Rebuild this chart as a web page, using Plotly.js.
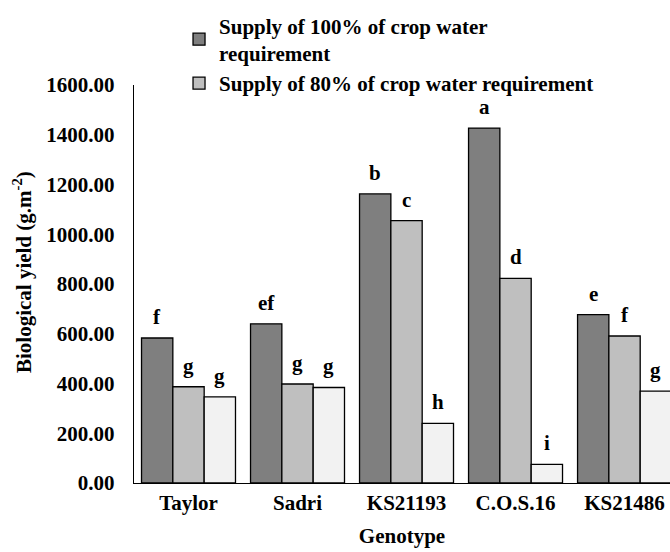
<!DOCTYPE html>
<html>
<head>
<meta charset="utf-8">
<script src="https://cdn.plot.ly/plotly-3.0.1.min.js"></script>
<style>html,body{margin:0;padding:0;background:#fff;}#chart{width:670px;height:552px;}</style>
</head>
<body>
<div id="chart"></div>
<script>
const genotypes = ['Taylor', 'Sadri', 'KS21193', 'C.O.S.16', 'KS21486'];
const seriesNames = [
  'Supply of 100% of crop water<br>requirement',
  'Supply of 80% of crop water requirement',
  'Supply of 60% of crop water requirement'
];
const supply100 = [583, 640, 1162, 1427, 677];
const supply80 = [387, 398, 1055, 823, 591];
const supply60 = [346, 384, 240, 75, 369];
const letters100 = ['f', 'ef', 'b', 'a', 'e'];
const letters80 = ['g', 'g', 'c', 'd', 'f'];
const letters60 = ['g', 'g', 'h', 'i', 'g'];
const yTicks = [0, 200, 400, 600, 800, 1000, 1200, 1400, 1600];

const colors = ['#7f7f7f', '#bfbfbf', '#f2f2f2'];
const values = [supply100, supply80, supply60];
const letters = [letters100, letters80, letters60];
const bargap = 0.138;
const fontFam = 'Liberation Serif';
const F = {family: fontFam, size: 21, color: '#000', weight: 700};

const traces = values.map((v, k) => ({
  type: 'bar',
  name: seriesNames[k],
  x: genotypes,
  y: v,
  marker: {color: colors[k], line: {color: '#000', width: 1.3}},
  showlegend: k < 2,
  hoverinfo: 'x+y'
}));

const w = (1 - bargap) / 3;
const annotations = [];
values.forEach((v, k) => {
  v.forEach((val, i) => {
    annotations.push({
      x: i + (k - 1) * w, y: val, xref: 'x', yref: 'y',
      text: letters[k][i], showarrow: false,
      xanchor: 'center', yanchor: 'bottom', yshift: 7,
      font: F
    });
  });
});
annotations.push({
  x: -0.209, y: 0.53, xref: 'paper', yref: 'paper',
  text: 'Biological yield (g.m<sup>-2</sup>)', textangle: -90,
  showarrow: false, xanchor: 'center', yanchor: 'middle',
  font: F
});

const layout = {
  width: 670, height: 552,
  margin: {l: 134, r: 0, t: 85, b: 69},
  paper_bgcolor: '#fff', plot_bgcolor: '#fff',
  font: F,
  barmode: 'group', bargap: bargap, bargroupgap: 0,
  xaxis: {
    type: 'category',
    range: [-0.5, 4.417],
    showline: true, linecolor: '#000', linewidth: 1.3,
    ticks: '', showgrid: false, zeroline: false,
    tickfont: F,
    title: {text: 'Genotype', standoff: 14, font: F},
    automargin: false, fixedrange: true
  },
  yaxis: {
    range: [0, 1600],
    tickvals: yTicks, tickformat: '.2f',
    showline: true, linecolor: '#000', linewidth: 1.3,
    ticks: '', ticklabelstandoff: 14,
    showgrid: false, zeroline: false,
    tickfont: F,
    automargin: false, fixedrange: true
  },
  legend: {
    x: 0.084, y: 1.2, xanchor: 'left', yanchor: 'top',
    orientation: 'v', bgcolor: 'rgba(0,0,0,0)',
    font: F,
    tracegroupgap: 2, itemwidth: 30
  },
  annotations: annotations
};

Plotly.newPlot('chart', traces, layout, {displayModeBar: false, staticPlot: true});
</script>
</body>
</html>
